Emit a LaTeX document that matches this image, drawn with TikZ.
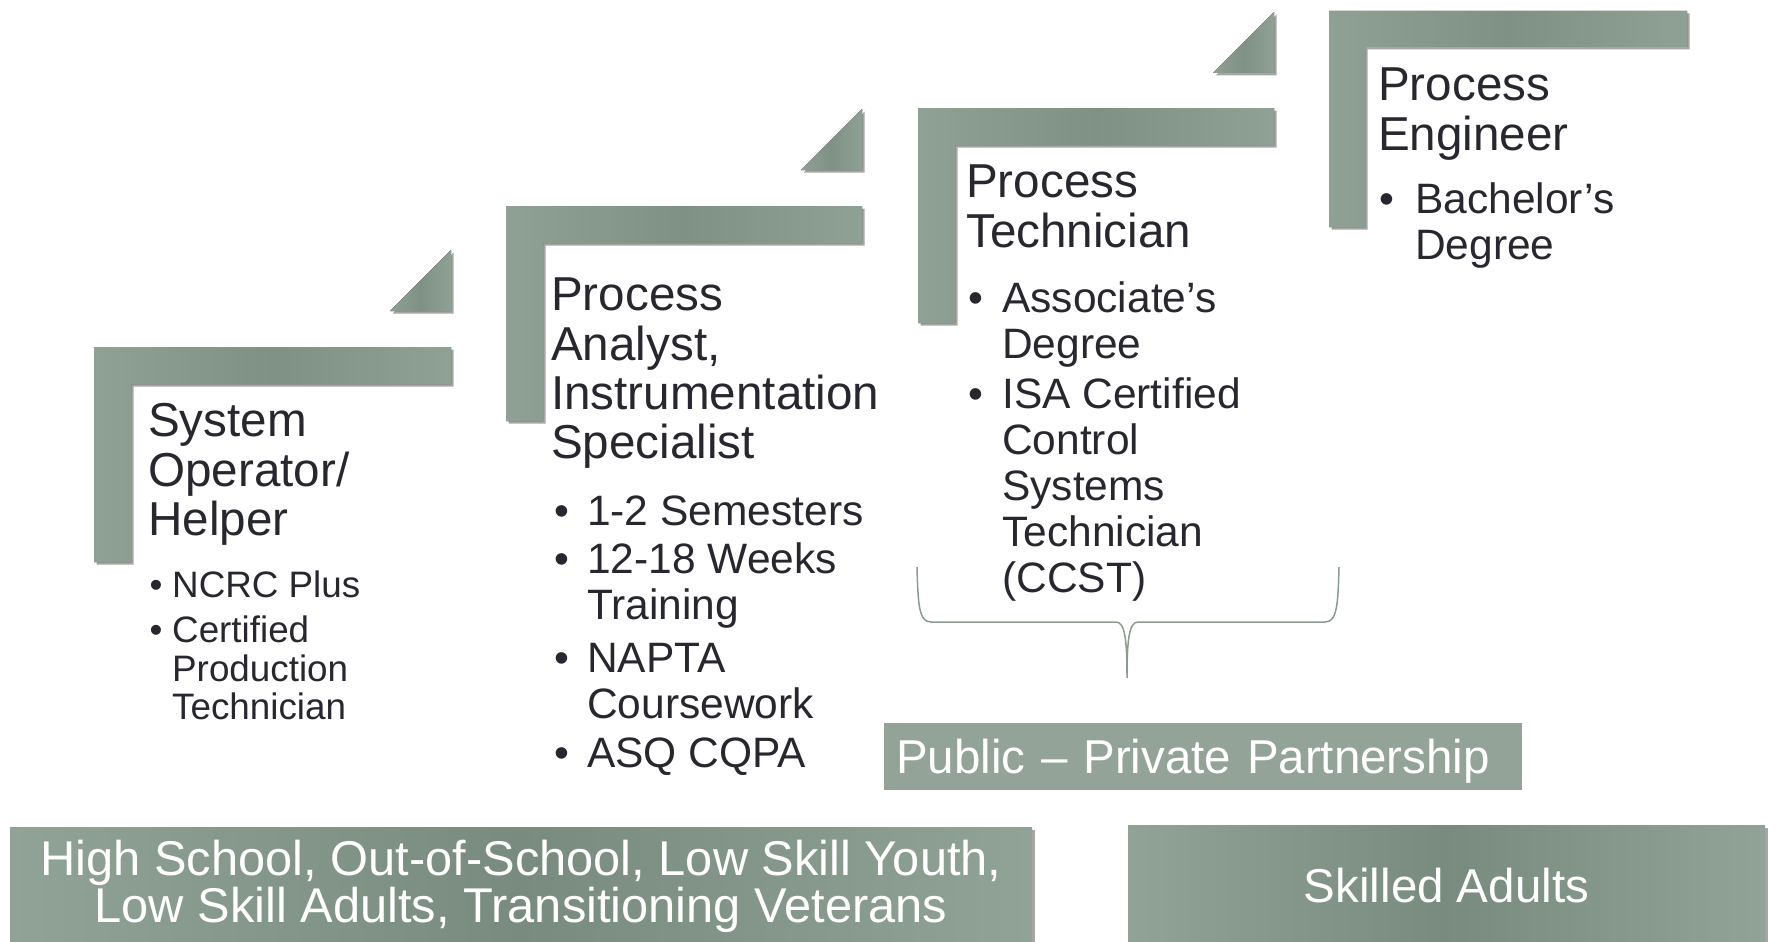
\documentclass[tikz,border=0pt]{standalone}
\usepackage{fontspec}
\setmainfont{Liberation Sans}
\usetikzlibrary{shadows}

\definecolor{stepgreen}{HTML}{8FA195}
\definecolor{stepdark}{HTML}{7F9185}
\definecolor{boxedge}{HTML}{91A397}
\definecolor{boxdark}{HTML}{798B7F}
\definecolor{boxgreen}{HTML}{93A398}
\definecolor{inkgray}{HTML}{27272F}
\definecolor{bracegreen}{HTML}{8A9C90}

\tikzset{
    softshadow/.style={drop shadow={shadow xshift=2.5pt, shadow yshift=-2.5pt, opacity=0.35, fill=black}},
    stepbar/.style={left color=stepgreen, right color=stepgreen, middle color=stepdark, softshadow},
    stepcorner/.style={left color=stepgreen, right color=stepgreen, middle color=stepdark, softshadow},
    steptitle/.style={anchor=north west, inner sep=0pt, align=left, text=inkgray, font=\fontsize{47.6}{49}\selectfont},
    stepitem/.style={anchor=north west, inner sep=0pt, align=left, text=inkgray, font=\fontsize{42.5}{46}\selectfont},
    smallitem/.style={stepitem, font=\fontsize{36.8}{38}\selectfont},
    itemdot/.style={anchor=base, inner sep=0pt, text=inkgray, font=\fontsize{42.5}{46}\selectfont},
    smalldot/.style={itemdot, font=\fontsize{36.8}{38}\selectfont},
    groupbox/.style={inner sep=0pt, align=center, text=white, left color=boxedge, right color=boxedge, middle color=boxdark, softshadow, font=\fontsize{47.5}{47}\selectfont},
    pppbox/.style={fill=boxgreen, inner xsep=12pt, inner ysep=0pt, align=left, text=white, font=\fontsize{47.5}{47}\selectfont}
}

\begin{document}
\begin{tikzpicture}[x=1pt, y=-1pt]
    \useasboundingbox (0,0) rectangle (1775,942);

    % Draw the four steps, each an L bar with a corner piece above it
    \fill[stepbar] (94,347) -- ++(357,0) -- ++(0,37) -- ++(-320,0) -- ++(0,178) -- ++(-37,0) -- cycle;
    \fill[stepcorner] (390,311) -- (451,250) -- (451,311) -- cycle;

    \fill[stepbar] (506,206) -- ++(356,0) -- ++(0,37) -- ++(-319,0) -- ++(0,178) -- ++(-37,0) -- cycle;
    \fill[stepcorner] (801,170) -- (862,109) -- (862,170) -- cycle;

    \fill[stepbar] (918,108) -- ++(356,0) -- ++(0,37) -- ++(-319,0) -- ++(0,178) -- ++(-37,0) -- cycle;
    \fill[stepcorner] (1213,73) -- (1274,12) -- (1274,73) -- cycle;

    \fill[stepbar] (1329,11) -- ++(358,0) -- ++(0,36) -- ++(-322,0) -- ++(0,180) -- ++(-36,0) -- cycle;

    % Step 1
    \node[steptitle] (op) at (148,401.7) {\strut System\\Operator/\\Helper};
    \node[smalldot] (op1d) at (156,597) {•};
    \node[smallitem] (op1) at (172,570.4) {\strut NCRC Plus};
    \node[smalldot] (op2d) at (156,642) {•};
    \node[smallitem] (op2) at (172,615.4) {\strut Certified\\Production\\Technician};

    % Step 2
    \node[steptitle] (an) at (551,275.7) {\strut Process\\Analyst,\\Instrumentation\\Specialist};
    \node[itemdot] (an1d) at (562,525) {•};
    \node[stepitem] (an1) at (587,492.8) {\strut 1-2 Semesters};
    \node[itemdot] (an2d) at (562,573) {•};
    \node[stepitem] (an2) at (587,540.8) {\strut 12-18 Weeks\\Training};
    \node[itemdot] (an3d) at (562,672) {•};
    \node[stepitem] (an3) at (587,639.8) {\strut NAPTA\\Coursework};
    \node[itemdot] (an4d) at (562,767) {•};
    \node[stepitem] (an4) at (587,734.8) {\strut ASQ CQPA};

    % Step 3
    \node[steptitle] (tech) at (966,162.7) {\strut Process\\Technician};
    \node[itemdot] (tech1d) at (976,312) {•};
    \node[stepitem] (tech1) at (1002,279.8) {\strut Associate’s\\Degree};
    \node[itemdot] (tech2d) at (976,408) {•};
    \node[stepitem] (tech2) at (1002,375.8) {\strut ISA Certified\\Control\\Systems\\Technician\\(CCST)};

    % Step 4
    \node[steptitle] (eng) at (1378,65.7) {\strut Process\\Engineer};
    \node[itemdot] (eng1d) at (1387,213) {•};
    \node[stepitem] (eng1) at (1415,180.8) {\strut Bachelor’s\\Degree};

    % Brace under the technician step
    \draw[bracegreen, line width=1.5pt] (917,567) .. controls (918,605) and (919,622) .. (931,622) -- (1116,622)
        .. controls (1125,622) and (1127,640) .. (1127,678)
        .. controls (1127,640) and (1129,622) .. (1138,622) -- (1325,622)
        .. controls (1337,622) and (1338,605) .. (1339,567);

    \node[pppbox, minimum width=638pt, minimum height=67pt, text width=614pt, text height=38pt, text depth=5pt] (ppp) at (1203,756.5) {Public – Private Partnership};

    % Target groups along the bottom
    \node[groupbox, minimum width=1022pt, minimum height=119pt, font=\fontsize{48.8}{47}\selectfont] (youth) at (521,886.5) {High School, Out-of-School, Low Skill Youth,\\Low Skill Adults, Transitioning Veterans};
    \node[groupbox, minimum width=637pt, minimum height=121pt] (adults) at (1446.5,885.5) {Skilled Adults};
\end{tikzpicture}
\end{document}
